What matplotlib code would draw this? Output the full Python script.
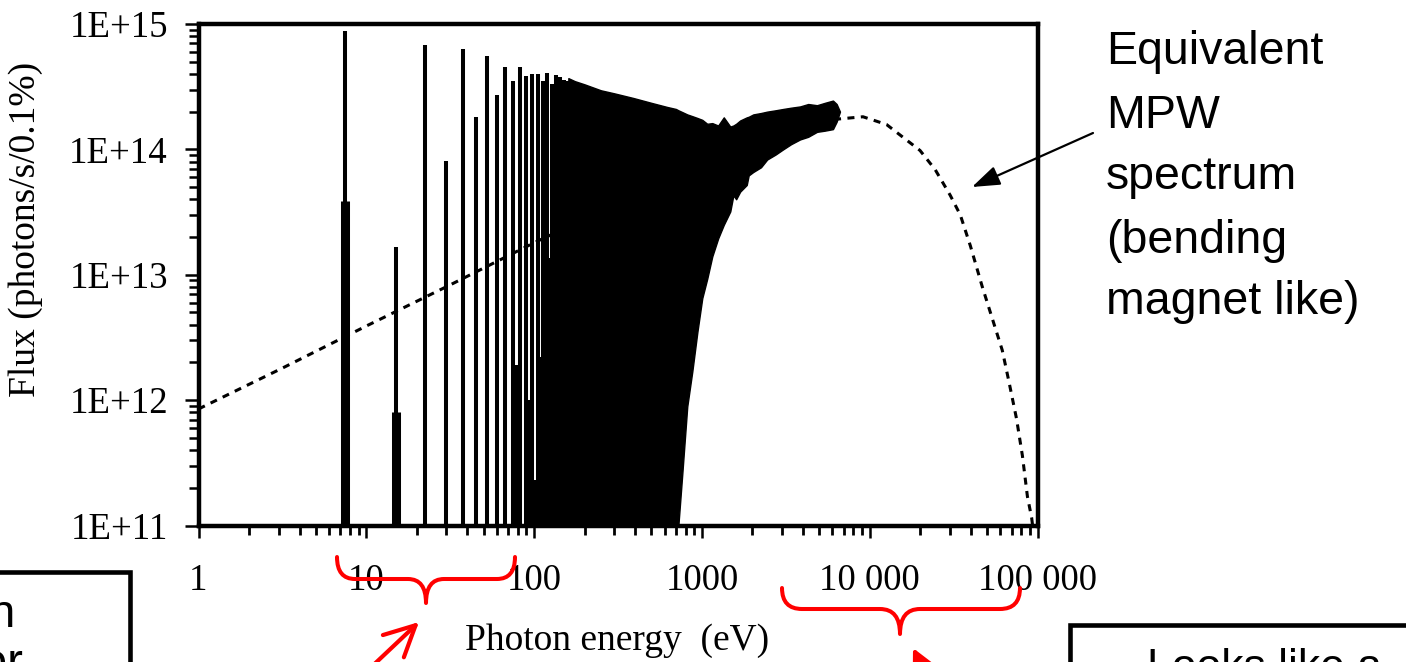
import numpy as np
import matplotlib
matplotlib.use("Agg")
import matplotlib.pyplot as plt
from matplotlib.path import Path
from matplotlib.patches import PathPatch, FancyArrowPatch, Rectangle
from matplotlib.ticker import LogLocator, NullFormatter

# ---------------- data ----------------
# individual low-energy undulator harmonics (eV) and their peak flux
harm_energy = [7.5, 15, 22.5, 30, 37.5, 45, 52.5, 60, 67.5, 75, 82.5, 90,
               97.5, 105, 112.5, 120, 127.5, 135, 142.5, 150, 157.5, 165]
harm_peak = [8.8e14, 1.67e13, 6.8e14, 8.1e13, 6.3e14, 1.8e14, 5.6e14, 2.7e14,
             4.5e14, 3.5e14, 4.5e14, 3.85e14, 4.0e14, 4.0e14, 3.5e14, 4.07e14,
             3.3e14, 3.9e14, 3.8e14, 3.6e14, 3.5e14, 3.4e14]
# minimum flux between a harmonic and the next one
gap_floor = [1e10, 1e10, 1e10, 1e10, 1e10, 1e10, 1e10, 1e10,
             1e10, 1.9e12, 1e10, 1.0e12, 2.3e11, 2.2e12, 1.4e13, 1.35e13,
             1.6e13, 1.3e13, 2.0e13, 2.5e13, 2.0e14, 3.3e14]
# broad lower part of the first two harmonics
base_energy = [7.5, 15]
base_top = [3.9e13, 8.0e11]

# dense harmonic region: upper and lower envelopes
dense_energy = [160, 175, 200, 250, 300, 390, 500, 620, 700, 724, 766, 818,
                877, 940, 1005, 1076, 1153, 1250, 1350, 1476, 1540, 1600,
                1690, 1850, 1900, 2023, 2250, 2449, 2750, 3048, 3400, 3846,
                4300, 4853, 5400, 6039, 6350, 6650]
dense_upper = [3.7e14, 3.5e14, 3.3e14, 2.96e14, 2.8e14, 2.57e14, 2.35e14,
               2.18e14, 2.1e14, 2.05e14, 1.98e14, 1.9e14, 1.84e14, 1.78e14,
               1.72e14, 1.6e14, 1.62e14, 1.55e14, 1.8e14, 1.52e14, 1.55e14,
               1.6e14, 1.7e14, 1.8e14, 1.82e14, 1.9e14, 1.95e14, 2.0e14,
               2.05e14, 2.1e14, 2.15e14, 2.2e14, 2.3e14, 2.25e14, 2.35e14,
               2.45e14, 2.3e14, 2.0e14]
dense_lower = [1e10, 1e10, 1e10, 1e10, 1e10, 1e10, 1e10, 1e10, 1e10,
               1.0e11, 2.7e11, 8.9e11, 1.7e12, 3.5e12, 6.5e12, 9.3e12,
               1.4e13, 1.95e13, 2.5e13, 3.2e13, 4.3e13, 4.0e13, 4.6e13,
               5.2e13, 6.2e13, 6.6e13, 7.2e13, 8.3e13, 9.1e13, 1.0e14,
               1.1e14, 1.2e14, 1.26e14, 1.38e14, 1.41e14, 1.45e14, 1.66e14,
               2.0e14]

# equivalent MPW (bending-magnet-like) spectrum, dashed
bm_energy = [1, 3.16, 10, 31.6, 100, 316, 1000, 3162, 6310, 9120, 12590,
             19950, 24550, 30200, 34670, 39810, 46770, 53700, 61660, 67600,
             75000, 81300, 87100, 92300, 95500]
bm_flux = [8.5e11, 1.8e12, 3.9e12, 8.3e12, 1.8e13, 3.7e13, 7.4e13, 1.26e14,
           1.74e14, 1.82e14, 1.58e14, 9.8e13, 6.9e13, 4.3e13, 3.0e13, 1.7e13,
           8.1e12, 4.5e12, 2.5e12, 1.4e12, 7.1e11, 3.6e11, 1.7e11, 1.15e11,
           7.9e10]

x_ticks = [1, 10, 100, 1000, 10000, 100000]
x_tick_labels = ["1", "10", "100", "1000", "10 000", "100 000"]
y_ticks = [1e11, 1e12, 1e13, 1e14, 1e15]
y_tick_labels = ["1E+11", "1E+12", "1E+13", "1E+14", "1E+15"]

annot_lines = ["Equivalent", "MPW", "spectrum", "(bending", "magnet like)"]

# ---------------- figure ----------------
plt.rcParams["font.family"] = ["Liberation Serif", "DejaVu Serif"]
W, H = 1406, 662
fig = plt.figure(figsize=(W / 100, H / 100), dpi=100)
fig.patch.set_facecolor("white")


def P(x, y):
    """pixel (image coords, y down) -> figure fraction"""
    return (x / W, 1 - y / H)


L, R, T, B = 198.5, 1037.5, 24.0, 525.5
ax = fig.add_axes([L / W, 1 - B / H, (R - L) / W, (B - T) / H])
ax.set_xscale("log")
ax.set_yscale("log")

ax.plot(bm_energy, bm_flux, color="black", lw=2.2, ls=(0, (2.3, 2.1)),
        zorder=1)
ax.fill_between(harm_energy, 1e10, gap_floor, step="post", color="black",
                lw=0, zorder=2)
ax.vlines(harm_energy, 1e10, harm_peak, color="black", lw=2.9, zorder=3)
ax.vlines(base_energy, 1e10, base_top, color="black", lw=6.5, zorder=3)
ax.fill_between(dense_energy, dense_lower, dense_upper, facecolor="black",
                edgecolor="black", lw=1.0, zorder=3)

ax.set_xlim(1, 1e5)
ax.set_ylim(1e11, 1e15)

ax.set_xticks(x_ticks, x_tick_labels)
ax.set_yticks(y_ticks, y_tick_labels)
for axis in (ax.xaxis, ax.yaxis):
    axis.set_minor_locator(LogLocator(base=10, subs=np.arange(2, 10),
                                      numticks=20))
    axis.set_minor_formatter(NullFormatter())

ax.tick_params(axis="x", which="major", direction="out", length=8.6,
               width=1.8, pad=19, labelsize=26.5)
ax.tick_params(axis="x", which="minor", direction="out", length=6.5,
               width=2.0)
ax.tick_params(axis="y", which="major", direction="out", length=10,
               width=1.8, pad=12, labelsize=26.5)
ax.tick_params(axis="y", which="minor", direction="out", length=7.2,
               width=1.8)
for s in ax.spines.values():
    s.set_linewidth(3.2)

ax.set_xlabel("Photon energy  (eV)", fontsize=27)
ax.xaxis.set_label_coords(0.4988, -0.196)
ax.set_ylabel("Flux (photons/s/0.1%)", fontsize=27)
ax.yaxis.set_label_coords(-0.1853, 0.59)

# ---------------- annotations ----------------
sans = ["Liberation Sans", "DejaVu Sans"]
baselines = [64, 128, 189, 253, 314]
for txt, yb in zip(annot_lines, baselines):
    fig.text(*P(1106, yb), txt, family=sans, fontsize=33.5, ha="left",
             va="baseline")

fig.patches.append(FancyArrowPatch(
    P(1093, 133), P(972, 187), transform=fig.transFigure,
    arrowstyle="-|>,head_length=0.85,head_width=0.3", mutation_scale=20,
    lw=1.6, color="black", shrinkA=0, shrinkB=0))


def brace(xl, xr, xc, yt, ym, yb, r):
    verts = [P(xl, yt), P(xl, ym), P(xl + r, ym), P(xc - r, ym), P(xc, ym),
             P(xc, yb), P(xc, ym), P(xc + r, ym), P(xr - r, ym), P(xr, ym),
             P(xr, yt)]
    codes = [Path.MOVETO, Path.CURVE3, Path.CURVE3, Path.LINETO, Path.CURVE3,
             Path.CURVE3, Path.CURVE3, Path.CURVE3, Path.LINETO, Path.CURVE3,
             Path.CURVE3]
    pp = PathPatch(Path(verts, codes), transform=fig.transFigure,
                   facecolor="none", edgecolor="#FF0000", lw=2.9,
                   capstyle="round", joinstyle="round", zorder=5)
    fig.patches.append(pp)


brace(337, 515, 426, 557, 579, 603, 18)
brace(782, 1020, 900, 588, 609, 634, 20)

fig.patches.append(FancyArrowPatch(
    P(366, 672), P(419, 622), transform=fig.transFigure,
    arrowstyle="->,head_length=1.0,head_width=0.5", mutation_scale=22,
    lw=3.0, color="#FF0000", shrinkA=0, shrinkB=0, capstyle="round"))
fig.patches.append(FancyArrowPatch(
    P(958, 740), P(913, 648), transform=fig.transFigure,
    arrowstyle="-|>,head_length=1.0,head_width=0.5", mutation_scale=25,
    lw=3.0, color="#FF0000", shrinkA=0, shrinkB=0))

# cropped text boxes at the bottom of the slide
fig.patches.append(Rectangle(P(-60, 720), (130 + 60) / W, (720 - 572) / H,
                             transform=fig.transFigure, facecolor="none",
                             edgecolor="black", lw=3.3))
fig.patches.append(Rectangle(P(1070, 720), (1460 - 1070) / W,
                             (720 - 625) / H, transform=fig.transFigure,
                             facecolor="none", edgecolor="black", lw=3.3))
fig.text(*P(15, 627), "Looks like an", family=sans, fontsize=34, ha="right",
         va="baseline")
fig.text(*P(24, 676), "undulator", family=sans, fontsize=34, ha="right",
         va="baseline")
fig.text(*P(1147, 680), "Looks like a", family=sans, fontsize=32, ha="left",
         va="baseline")

fig.savefig("out.png", dpi=100)
